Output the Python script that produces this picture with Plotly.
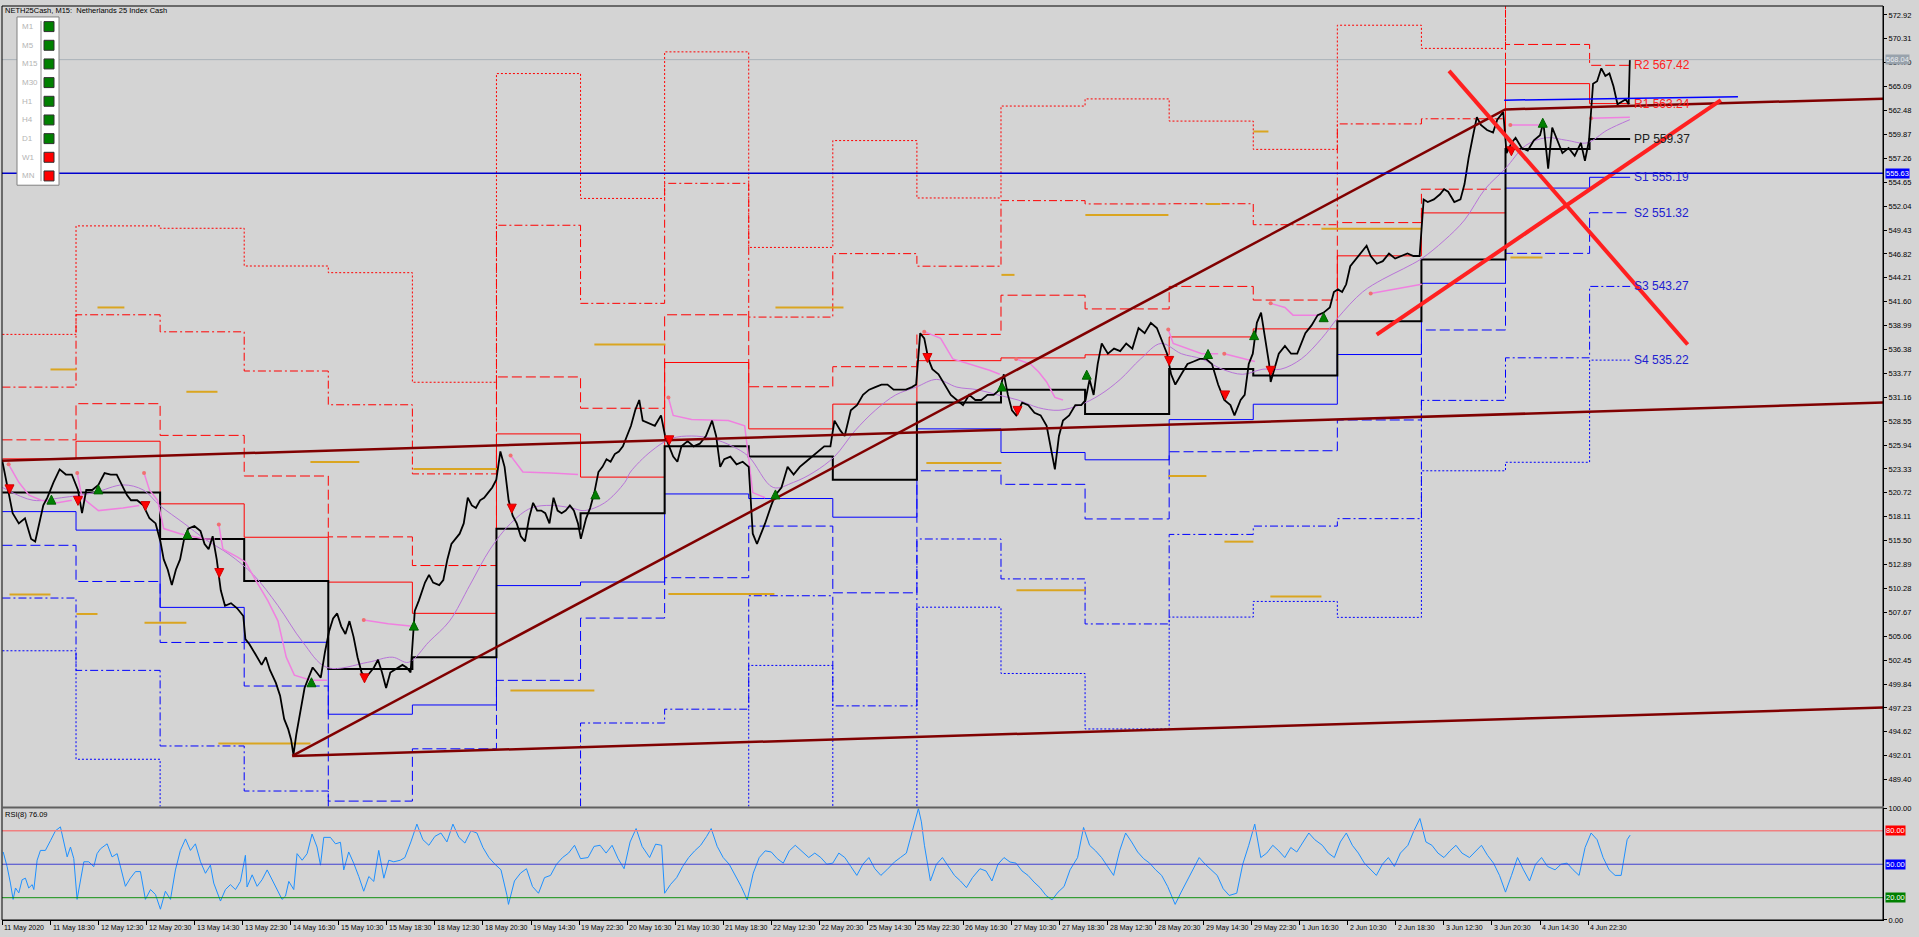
import plotly.graph_objects as go

# ---------------- DATA ----------------
DATE_BARS = [0, 32, 64, 96, 128, 160, 192, 224, 256, 288, 320, 352, 384, 416, 448, 480, 512,
             544, 576, 608, 640, 672, 704, 736, 768, 800, 832, 864, 896, 928, 960, 992, 1024, 1056]
DATE_LABELS = ["11 May 2020", "11 May 18:30", "12 May 12:30", "12 May 20:30", "13 May 14:30",
               "13 May 22:30", "14 May 16:30", "15 May 10:30", "15 May 18:30", "18 May 12:30",
               "18 May 20:30", "19 May 14:30", "19 May 22:30", "20 May 16:30", "21 May 10:30",
               "21 May 18:30", "22 May 12:30", "22 May 20:30", "25 May 14:30", "25 May 22:30",
               "26 May 16:30", "27 May 10:30", "27 May 18:30", "28 May 12:30", "28 May 20:30",
               "29 May 14:30", "29 May 22:30", "1 Jun 16:30", "2 Jun 10:30", "2 Jun 18:30",
               "3 Jun 12:30", "3 Jun 20:30", "4 Jun 14:30", "4 Jun 22:30"]
PRICE_TICKS = [572.92, 570.31, 567.70, 565.09, 562.48, 559.87, 557.26, 554.65, 552.04, 549.43,
               546.82, 544.21, 541.60, 538.99, 536.38, 533.77, 531.16, 528.55, 525.94, 523.33,
               520.72, 518.11, 515.50, 512.89, 510.28, 507.67, 505.06, 502.45, 499.84, 497.23,
               494.62, 492.01, 489.40]

PRICE_BARS = [0, 4.1, 6.8, 10.9, 15.0, 19.1, 21.8, 24.5, 27.2, 29.9, 34.0, 38.1, 42.2, 46.2, 50.3, 53.0,
              55.8, 59.8, 63.9, 68.0, 72.1, 76.1, 80.2, 82.9, 85.6, 89.7, 93.8, 97.9, 102.0, 105.2, 107.4,
              110.1, 112.8, 115.5, 118.3, 121.0, 123.7, 127.8, 131.9, 134.6, 137.3, 140.0, 142.7, 145.4,
              148.2, 152.2, 156.3, 160.4, 161.8, 164.5, 168.6, 172.6, 175.4, 178.1, 182.1, 184.9, 187.6,
              190.3, 192.2, 193.8, 195.7, 198.5, 201.2, 203.9, 206.6, 209.3, 212.0, 214.8, 217.5, 220.2,
              222.9, 225.6, 228.4, 231.1, 233.8, 236.5, 239.2, 242.0, 244.7, 247.4, 250.1, 252.8, 255.5,
              258.3, 261.0, 263.7, 266.4, 269.1, 271.8, 274.6, 277.3, 281.4, 284.1, 286.8, 290.9, 293.6,
              296.3, 299.0, 301.7, 304.5, 307.2, 309.9, 312.6, 315.3, 318.1, 320.8, 323.5, 326.2, 328.9,
              331.6, 334.4, 337.1, 339.8, 342.5, 345.2, 348.0, 350.7, 353.4, 356.1, 358.8, 361.5, 364.3,
              367.0, 369.7, 372.4, 375.1, 377.9, 380.6, 383.3, 385.2, 388.7, 391.4, 394.2, 396.9, 399.6,
              402.3, 405.0, 407.8, 410.5, 413.2, 415.9, 418.6, 421.4, 424.1,
              426.4, 430.4, 434.5, 438.6, 441.3, 444.0, 446.7, 449.5, 452.2, 456.3, 460.3, 464.4, 468.5,
              472.6, 475.3, 478.0, 480.7, 484.8, 488.9, 493.0, 497.0, 499.7, 502.5, 505.2, 507.9, 512.0,
              514.7, 518.8, 522.9, 526.9, 531.0, 535.1, 539.2, 543.2, 547.3, 551.4, 554.1, 558.2, 560.9,
              565.0, 569.1, 573.1, 577.2, 581.3, 585.4, 589.4, 593.5, 597.6, 601.7, 605.7, 608.5, 611.2,
              613.9, 616.6, 619.3, 623.4, 627.5, 631.6, 635.6, 639.7, 643.8, 647.9, 651.9, 656.0, 660.1,
              664.2, 666.9, 669.6, 672.3, 675.1, 679.1, 683.2, 687.3, 691.4, 695.4, 698.2, 700.9, 703.6,
              706.3, 710.4, 714.5, 718.5, 721.3, 724.0, 726.7, 729.4, 732.1, 736.2, 740.3, 744.4, 748.4,
              752.5, 756.6, 760.7, 764.8, 768.8, 772.9, 775.6, 778.3, 781.1, 785.1, 789.2, 793.3, 797.4,
              801.5, 805.5, 809.6, 813.7, 817.8, 820.5, 824.6, 827.3, 830.0, 832.7, 835.4, 838.2, 840.9,
              843.6, 844.6, 848.0, 850.0, 854.1, 858.2, 862.3, 865.0, 867.7, 871.8, 875.9, 879.9, 884.0,
              886.7, 889.4, 892.2, 894.9, 897.6, 901.7, 905.8, 908.5, 911.2, 915.3, 919.3, 923.4, 927.5,
              931.6, 935.7, 939.7, 943.8, 946.5, 949.2, 953.3, 957.4, 960.1, 962.8, 966.9, 971.0, 973.7,
              976.4, 979.1, 981.9, 984.6, 988.7, 992.7, 995.5, 999.5, 1001.7, 1005.0, 1007.7, 1011.8,
              1015.8, 1019.9, 1024.0, 1026.2, 1028.1, 1029.4, 1032.1, 1034.9, 1038.9, 1043.0, 1047.1,
              1051.2, 1053.9, 1056.6, 1059.3, 1062.0, 1064.8, 1067.5, 1070.2, 1072.9, 1075.6, 1078.4,
              1081.1, 1083.0, 1083.8]
PRICE_CLOSE = [524.12, 520.75, 518.50, 517.38, 517.94, 515.69, 515.41, 517.38, 519.35, 520.19, 521.87,
               523.28, 522.72, 522.72, 521.03, 518.50, 521.03, 521.03, 521.59, 522.88, 522.72, 522.72,
               521.31, 520.47, 519.91, 519.91, 519.35, 517.94, 517.38, 515.41, 513.45, 512.32, 510.64,
               512.32, 513.45, 515.69, 516.82, 517.10, 516.54, 515.13, 514.57, 515.98, 513.45, 510.08,
               508.39, 508.67, 508.11, 507.27, 504.74, 504.18, 503.06, 501.93, 502.77, 501.37, 499.96,
               498.56, 496.03, 494.91, 493.79, 492.10, 494.35, 497.16, 499.40, 500.53, 501.65, 501.09,
               500.53, 503.34, 505.58, 506.99, 507.55, 506.14, 505.30, 506.71, 505.02, 502.77, 501.09,
               500.53, 501.09, 501.65, 502.49, 501.09, 499.40, 501.09, 501.37, 501.65, 501.93, 501.65,
               501.09, 507.83, 508.95, 510.92, 511.76, 510.92, 510.64, 511.20, 513.45, 515.13, 515.69,
               516.26, 517.38, 520.19, 519.35, 519.06, 519.91, 520.19, 520.75, 521.31, 522.15, 525.24,
               523.56, 519.91, 518.22, 517.38, 515.98, 515.41, 517.94, 519.63, 518.78, 518.78, 518.50,
               517.38, 520.19, 518.78, 518.50, 518.78, 519.35, 518.78, 517.38, 515.69, 517.94, 519.06,
               520.75, 522.99, 523.56, 524.40, 524.12, 524.96, 525.24, 525.80, 526.93, 528.05, 529.74,
               530.86,
               528.61, 528.33, 528.05, 529.18, 526.93, 525.80, 524.68, 524.12, 525.80, 526.37, 525.80,
               526.09, 526.93, 528.61, 526.93, 523.56, 524.40, 524.68, 523.84, 524.12, 523.56, 516.26,
               515.13, 516.26, 517.38, 519.35, 520.47, 521.31, 523.56, 522.72, 523.56, 524.12, 524.68,
               525.24, 525.80, 525.80, 528.61, 527.49, 526.93, 529.74, 530.30, 531.42, 531.99, 532.27,
               532.55, 532.55, 531.99, 531.99, 531.99, 532.27, 532.55, 538.16, 537.60, 535.35, 534.23,
               533.67, 532.55, 531.42, 530.86, 530.30, 531.42, 530.86, 530.86, 531.42, 531.42, 531.99,
               533.67, 531.42, 529.74, 529.18, 530.58, 530.30, 529.46, 529.18, 528.05, 525.80, 523.28,
               526.93, 528.61, 529.18, 530.30, 530.30, 530.86, 533.11, 531.42, 534.79, 537.04, 535.92,
               536.48, 536.20, 537.04, 536.48, 538.73, 538.16, 539.29, 538.73, 537.04, 535.92, 533.67,
               532.55, 533.67, 534.79, 535.07, 535.35, 535.35, 534.79, 532.55, 530.86, 530.30, 529.18,
               530.86, 531.42, 534.79, 535.92, 539.29, 540.41, 537.60, 534.79, 532.83, 534.79, 535.92,
               536.76, 535.92, 535.92, 537.04, 538.16, 539.01, 540.13, 540.41, 540.97, 542.66, 542.94,
               542.66, 543.50, 545.47, 546.31, 547.15, 547.71, 546.59, 545.75, 546.03, 546.87, 546.31,
               546.59, 546.87, 546.59, 546.59, 552.77, 552.49, 552.77, 553.33, 553.89, 553.61, 552.49,
               552.77, 554.45, 557.26, 559.51, 561.76, 560.92, 560.35, 560.07, 561.48, 562.32, 557.83,
               558.95, 559.51, 558.39, 558.11, 559.23, 559.79, 561.20, 558.39, 556.14, 560.63, 559.51,
               557.83, 558.39, 557.54, 558.95, 556.98, 559.23, 565.41, 565.69, 567.09, 566.25, 566.53,
               565.13, 563.16, 563.44, 563.72, 563.16, 568.04]

MA_BARS = [0, 20.4, 39.4, 61.2, 80.2, 93.8, 104.7, 121.0, 134.6, 150.9, 167.2, 183.5, 199.8, 216.1,
           243.3, 259.6, 270.5, 284.1, 297.7, 311.3, 324.8, 338.4, 352.0, 365.6, 379.2, 387.4, 401.0,
           414.5, 418.2, 431.8, 445.4, 459.0, 472.6, 486.2, 497.0, 513.3, 526.9, 540.5, 554.1, 567.7,
           581.3, 594.9, 608.5, 622.1, 635.6, 649.2, 662.8, 676.4, 690.0, 703.6, 717.2, 730.8, 744.4,
           758.0, 771.6, 785.1, 798.7, 812.3, 825.9, 839.5, 851.4, 865.0, 878.6, 889.4, 905.8, 919.3,
           932.9, 945.2, 960.1, 973.7, 987.3, 1000.9, 1014.5, 1028.1, 1041.7, 1055.2, 1068.8, 1083.8]
MA_VALUES = [521.31, 519.91, 520.19, 520.75, 521.59, 521.03, 519.35, 517.38, 515.69, 514.01, 511.76,
             508.39, 504.46, 501.65, 502.21, 502.77, 502.21, 504.46, 506.71, 510.64, 514.57, 517.38,
             519.06, 519.35, 519.06, 518.78, 519.63, 521.87, 522.99, 525.24, 526.65, 526.93, 526.65,
             525.80, 524.68, 521.31, 521.87, 522.99, 524.68, 527.49, 529.74, 531.42, 532.27, 533.11,
             532.27, 531.99, 531.42, 530.86, 530.02, 529.74, 530.30, 531.42, 533.11, 535.35, 537.04,
             535.92, 535.35, 534.23, 533.67, 534.23, 534.23, 535.35, 537.60, 539.85, 542.66, 544.06,
             545.19, 546.31, 548.28, 550.52, 553.89, 556.14, 558.67, 559.51, 559.23, 558.95, 560.35,
             561.48]

PINK_SEGMENTS = [
    [(4.1, 523.84), (10.9, 521.87), (17.7, 520.47), (25.8, 519.91), (36.7, 519.63), (46.2, 519.91)],
    [(49.8, 522.88), (53.0, 520.19), (63.9, 518.78), (80.2, 519.06), (91.1, 519.35)],
    [(94.3, 522.88), (97.9, 521.03), (103.3, 519.91), (107.4, 516.82), (118.3, 516.26),
     (134.6, 515.69), (141.4, 515.69)],
    [(144.1, 517.27), (146.8, 514.57), (156.3, 513.73), (161.8, 513.17), (168.6, 511.20),
     (176.7, 508.95), (183.5, 506.71), (189.0, 502.77), (194.4, 500.81), (205.3, 500.25), (216.1, 500.25)],
    [(240.6, 506.82), (256.9, 506.43), (273.2, 506.14)],
    [(338.4, 524.79), (346.6, 522.99), (365.6, 522.88), (383.3, 522.72)],
    [(443.5, 531.14), (446.7, 529.18), (459.0, 528.73), (483.4, 528.61), (494.3, 528.05),
     (499.7, 520.75), (507.9, 520.19)],
    [(613.9, 538.33), (624.8, 537.60), (632.9, 535.35), (643.8, 534.79), (657.4, 534.12), (664.2, 533.67)],
    [(675.1, 535.35), (684.6, 534.79), (690.0, 533.95), (695.4, 532.83), (700.9, 531.14), (706.3, 530.86)],
    [(776.4, 538.56), (779.7, 537.04), (798.7, 535.92), (809.6, 535.92)],
    [(813.7, 535.92), (834.1, 535.07)],
    [(844.6, 541.42), (854.1, 540.97), (859.5, 540.13), (878.6, 540.13)],
    [(911.2, 542.49), (945.2, 543.50)],
    [(1004.2, 560.91), (1025.4, 560.91)],
    [(1058.0, 561.64), (1083.8, 561.76)],
]

DAY_START = [0, 49, 105, 161, 217, 273, 329, 385, 441, 497, 553, 609, 665, 721, 777, 833, 889, 945, 1001, 1057]
LAST_BAR = 1084
PP = [520.75, 520.75, 515.69, 511.09, 501.48, 502.77, 516.81, 518.50, 525.81, 524.70, 522.15, 530.58,
      531.98, 529.34, 534.24, 533.55, 539.46, 546.20, 558.29, 559.37]
R1 = [524.43, 526.36, 519.52, 515.87, 510.97, 507.56, 527.16, 522.44, 534.96, 527.71, 530.41, 535.16,
      535.46, 535.80, 537.75, 538.63, 546.61, 551.30, 565.42, 563.24]
R2 = [526.51, 530.46, 527.00, 522.56, 515.91, 512.78, 533.38, 529.96, 540.17, 532.31, 534.50, 538.03,
      542.31, 540.81, 543.27, 541.78, 550.24, 553.89, 569.70, 567.42]
R3 = [532.27, 540.17, 538.31, 534.03, 530.34, 522.79, 549.95, 541.42, 554.53, 539.92, 546.85, 545.48,
      552.64, 552.28, 552.30, 550.01, 561.02, 561.58, 581.11, 575.47]
R4 = [538.03, 549.88, 549.62, 545.50, 544.77, 532.80, 566.52, 552.88, 568.89, 547.53, 559.20, 552.93,
      562.97, 563.75, 561.33, 558.24, 571.80, 569.27, 592.52, 583.52]
S1 = [518.67, 516.65, 508.21, 504.40, 496.54, 497.55, 510.59, 510.98, 520.60, 520.10, 518.06, 527.71,
      525.13, 524.33, 528.72, 530.40, 535.83, 543.61, 554.01, 555.19]
S2 = [514.99, 511.04, 504.38, 499.62, 487.05, 492.76, 500.24, 507.04, 511.45, 517.09, 509.80, 523.13,
      521.65, 517.87, 525.21, 525.32, 528.68, 538.51, 546.88, 551.32]
S3 = [509.23, 501.33, 493.07, 488.15, 472.62, 482.75, 483.67, 495.58, 497.09, 509.48, 497.45, 515.68,
      511.32, 506.40, 516.18, 517.09, 517.90, 530.82, 535.47, 543.27]
S4 = [503.47, 491.62, 481.76, 476.68, 458.19, 472.74, 467.10, 484.12, 482.73, 501.87, 485.10, 508.23,
      500.99, 494.93, 507.15, 508.86, 507.12, 523.13, 524.06, 535.22]
PIVOT_LABELS = ["R2 567.42", "R1 563.24", "PP 559.37", "S1 555.19", "S2 551.32", "S3 543.27", "S4 535.22"]
PIVOT_LABEL_PRICES = [567.42, 563.24, 559.37, 555.19, 551.32, 543.27, 535.22]

ORANGE_START = [63.3, 32.0, 122.5, 205.1, 273.7, 394.2, 4.7, 49.3, 94.6, 143.8, 338.3, 514.8, 443.5,
                615.3, 665.3, 721.2, 675.3, 776.5, 801.8, 833.1, 813.8, 878.4, 844.4, 1004.3]
ORANGE_END = [81.2, 49.3, 143.2, 237.7, 330.3, 441.5, 32.0, 63.3, 122.5, 205.1, 394.2, 560.1, 514.1,
              665.3, 674.0, 776.5, 721.2, 801.8, 811.1, 843.1, 833.1, 945.0, 878.4, 1025.6]
ORANGE_PRICE = [540.97, 534.20, 531.76, 524.09, 523.33, 536.92, 509.62, 507.49, 506.54, 493.33, 499.12,
                540.97, 509.68, 523.98, 544.53, 551.08, 510.08, 522.57, 552.26, 560.20, 515.39, 549.57,
                509.41, 546.43]

UP_BARS = [32.6, 63.9, 123.2, 205.8, 274.0, 394.9, 514.8, 665.6, 722.1, 802.9, 833.6, 879.9, 1025.8]
UP_PRICES = [520.47, 521.59, 516.69, 500.52, 506.71, 521.04, 521.04, 532.83, 534.12, 536.38, 538.44,
             540.40, 561.64]
DOWN_BARS = [4.7, 50.3, 95.2, 144.4, 241.1, 339.2, 444.1, 616.0, 676.0, 777.0, 814.3, 844.6, 1004.9]
DOWN_PRICES = [520.61, 519.35, 518.78, 511.47, 499.97, 518.50, 525.97, 534.96, 529.18, 534.64, 530.87,
               533.56, 557.54]

# trend lines: (bar0, price0, bar1, price1)
MAROON_LINES = [(193.0, 491.98, 1252.7, 497.27), (-1.3, 524.23, 1252.7, 530.58),
                (193.0, 491.98, 1000.9, 562.60), (1000.9, 562.60, 1252.7, 563.78)]
RED_X_LINES = [(963.4, 566.82, 1122.3, 536.92), (915.2, 538.00, 1144.4, 563.61)]
BLUE_TREND = (1000.1, 563.61, 1155.8, 564.00)
HLINE_BLUE = 555.63
HLINE_BID = 568.04

RSI_BARS = [0.5, 3.1, 5.3, 7.1, 8.7, 10.9, 13.1, 15.3, 17.5, 19.8, 20.9, 23.1, 25.3, 28.6, 32.0, 35.3,
            38.6, 40.8, 43.1, 45.3, 47.5, 49.7, 52.0, 54.2, 57.5, 60.8, 63.0, 65.3, 69.7, 73.0, 76.4,
            79.7, 81.9, 85.2, 88.6, 91.9, 95.2, 98.6, 101.9, 105.2, 108.5, 111.9, 115.2, 118.5, 121.9,
            125.2, 128.5, 131.9, 135.2, 138.5, 140.7, 145.2, 148.5, 151.8, 155.2, 158.5, 161.8, 162.9,
            166.3, 169.6, 172.9, 176.3, 179.6, 182.9, 186.2, 188.5, 190.7, 194.0, 196.2, 199.6, 202.9,
            206.2, 209.5, 211.8, 214.0, 218.4, 221.8, 225.1, 227.3, 230.6, 234.0, 237.3, 240.6, 244.0,
            247.3, 250.6, 254.0, 257.3, 260.6, 265.0,
            268, 272, 276, 280, 284, 288, 292, 296, 300, 304, 308, 312, 316, 320, 324, 328, 332, 336,
            337, 341, 345, 349, 353, 357, 361, 365, 369, 373, 377, 381, 385, 390, 394, 398, 402, 406,
            410, 414, 418, 422, 426, 431, 435, 439, 441, 445, 449, 453, 457, 461, 465, 469, 472, 476,
            480, 484, 488, 492, 496, 500, 504, 508, 512, 516, 520, 524, 528, 532, 537, 541, 545, 549,
            553, 557, 561, 565, 569, 573, 577, 581, 585, 589, 594, 598, 602, 606, 610, 612, 614, 618,
            622, 626, 630, 634, 638, 642, 646, 651, 655, 659, 663, 667, 671, 675, 679, 683, 687, 691,
            695, 699, 703, 707, 711, 716, 720, 724, 728, 732, 736, 740, 744, 748, 752, 756, 760, 764,
            768, 772, 776, 781, 785, 789, 793, 797, 801, 805, 809, 813, 817, 822, 826, 830, 834, 838,
            842, 846, 850, 854, 858, 862, 866, 870, 874, 879, 883, 887, 891, 895, 899, 903, 907, 911,
            915, 919, 923, 927, 931, 936, 940, 944, 948, 952, 956, 960, 964, 968, 972, 977, 981, 985,
            989, 993, 997, 1001, 1005, 1009, 1013, 1017, 1021, 1025, 1029, 1034, 1038, 1042, 1046,
            1050, 1054, 1058, 1062, 1066, 1070, 1074, 1078, 1082, 1084]
RSI_VALUES = [61.0, 47.8, 33.1, 18.5, 28.7, 24.3, 36.1, 37.5, 28.7, 31.7, 27.3, 53.6, 62.4, 62.4, 71.2,
              80.0, 83.5, 71.2, 56.6, 65.4, 55.1, 18.5, 36.1, 52.2, 52.2, 47.8, 59.5, 63.9, 68.3, 56.6,
              59.5, 41.9, 30.2, 37.5, 43.4, 43.4, 18.5, 27.3, 22.9, 9.7, 25.8, 18.5, 44.9, 62.4, 72.7,
              62.4, 68.3, 52.2, 41.9, 49.2, 33.1, 17.0, 27.3, 31.7, 27.3, 34.6, 58.0, 29.6, 40.5, 30.2,
              36.1, 44.9, 36.1, 27.3, 18.5, 21.4, 34.6, 27.3, 59.5, 53.6, 59.5, 77.1, 65.4, 49.2, 74.1,
              74.1, 68.3, 69.7, 44.9, 61.0, 50.7, 39.0, 25.8, 39.0, 34.6, 62.4, 37.5, 53.6, 52.2, 53.6,
              56, 70, 86, 72, 67, 75, 78, 70, 86, 74, 69, 80, 78, 65, 56, 50, 45, 22,
              14, 35, 42, 46, 30, 24, 38, 40, 50, 56, 60, 67, 55, 56, 66, 67, 60, 67,
              55, 46, 70, 82, 66, 56, 68, 67, 24, 32, 38, 48, 56, 62, 67, 75, 82, 66,
              56, 50, 40, 30, 18, 42, 56, 62, 61, 55, 51, 62, 67, 62, 56, 60, 56, 50,
              51, 60, 56, 48, 40, 50, 56, 46, 40, 45, 52, 56, 60, 80, 100, 88, 67, 35,
              50, 56, 48, 40, 35, 29, 38, 46, 44, 35, 50, 56, 52, 51, 44, 40, 34, 29,
              22, 18, 25, 30, 45, 56, 83, 67, 62, 56, 48, 40, 62, 78, 70, 61, 55, 51,
              45, 40, 30, 14, 25, 35, 45, 56, 50, 45, 40, 28, 22, 24, 50, 67, 86, 56,
              60, 67, 62, 56, 65, 61, 70, 78, 72, 67, 60, 56, 70, 78, 67, 60, 51, 45,
              40, 50, 56, 48, 60, 67, 80, 91, 70, 67, 60, 56, 62, 67, 60, 56, 62, 67,
              58, 51, 40, 25, 40, 56, 45, 35, 50, 56, 48, 45, 50, 51, 45,
              40, 65, 78, 72, 56, 45, 40, 40, 72, 76.09]
RSI_LEVELS = [80, 50, 20]

TF_LABELS = ["M1", "M5", "M15", "M30", "H1", "H4", "D1", "W1", "MN"]
TF_STATE = ["up", "up", "up", "up", "up", "up", "up", "down", "down"]

# ---------------- LAYOUT HELPERS ----------------
W, H = 1919, 937
ML, MR, MT, MB = 2, 36, 2, 17
PW, PH = W - ML - MR, H - MT - MB


def pxx(x):
    return (x - ML) / PW


def pxy(y):
    return (H - MB - y) / PH


BG = "#d4d4d4"
SMALL = "Liberation Sans, Arial, sans-serif"
RED = "#ff0000"
BLUE = "#0000ff"

fig = go.Figure()

# pivot step lines
step_x = DAY_START + [LAST_BAR]
pivot_specs = [
    (R4, RED, "2px,2px", 1), (R3, RED, "8px,3px,2px,3px", 1), (R2, RED, "10px,4px", 1), (R1, RED, "solid", 1),
    (S4, BLUE, "2px,2px", 1), (S3, BLUE, "8px,3px,2px,3px", 1), (S2, BLUE, "10px,4px", 1), (S1, BLUE, "solid", 1),
    (PP, "#000000", "solid", 2),
]
for vals, col, dash, wd in pivot_specs:
    fig.add_trace(go.Scatter(x=step_x, y=vals + [vals[-1]], mode="lines",
                             line=dict(color=col, dash=dash, width=wd, shape="hv"),
                             hoverinfo="skip", showlegend=False))

# orange mid segments
ox, oy = [], []
for a, b, p in zip(ORANGE_START, ORANGE_END, ORANGE_PRICE):
    ox += [a, b, None]
    oy += [p, p, None]
fig.add_trace(go.Scatter(x=ox, y=oy, mode="lines", line=dict(color="#daa520", width=2),
                         hoverinfo="skip", showlegend=False))

# MA
fig.add_trace(go.Scatter(x=MA_BARS, y=MA_VALUES, mode="lines",
                         line=dict(color="#b874d8", width=1, shape="spline"),
                         hoverinfo="skip", showlegend=False))
# pink trailing line
kx, ky = [], []
for seg in PINK_SEGMENTS:
    kx += [s[0] for s in seg] + [None]
    ky += [s[1] for s in seg] + [None]
fig.add_trace(go.Scatter(x=kx, y=ky, mode="lines", line=dict(color="#f080e0", width=1.5),
                         hoverinfo="skip", showlegend=False))
fig.add_trace(go.Scatter(x=[seg[0][0] for seg in PINK_SEGMENTS], y=[seg[0][1] for seg in PINK_SEGMENTS],
                         mode="markers", marker=dict(color="#f07070", size=4),
                         hoverinfo="skip", showlegend=False))

# price
fig.add_trace(go.Scatter(x=PRICE_BARS, y=PRICE_CLOSE, mode="lines",
                         line=dict(color="#000000", width=1.8), hoverinfo="skip", showlegend=False))

# maroon trend lines
mx, my = [], []
for a, p0, b, p1 in MAROON_LINES:
    mx += [a, b, None]
    my += [p0, p1, None]
fig.add_trace(go.Scatter(x=mx, y=my, mode="lines", line=dict(color="#800000", width=2.5),
                         hoverinfo="skip", showlegend=False))
# blue short trend
fig.add_trace(go.Scatter(x=[BLUE_TREND[0], BLUE_TREND[2]], y=[BLUE_TREND[1], BLUE_TREND[3]], mode="lines",
                         line=dict(color="#0000ff", width=1.5), hoverinfo="skip", showlegend=False))

# arrows
fig.add_trace(go.Scatter(x=UP_BARS, y=UP_PRICES, mode="markers",
                         marker=dict(symbol="arrow-up", size=9, color="#008000",
                                     line=dict(color="#006000", width=1)),
                         hoverinfo="skip", showlegend=False))
fig.add_trace(go.Scatter(x=DOWN_BARS, y=DOWN_PRICES, mode="markers",
                         marker=dict(symbol="arrow-down", size=9, color="#ff0000",
                                     line=dict(color="#d00000", width=1)),
                         hoverinfo="skip", showlegend=False))

# red X lines
rx, ry = [], []
for a, p0, b, p1 in RED_X_LINES:
    rx += [a, b, None]
    ry += [p0, p1, None]
fig.add_trace(go.Scatter(x=rx, y=ry, mode="lines", line=dict(color="#ff2020", width=4),
                         hoverinfo="skip", showlegend=False))

# RSI
fig.add_trace(go.Scatter(x=RSI_BARS, y=RSI_VALUES, mode="lines", yaxis="y2",
                         line=dict(color="#1e90ff", width=1), hoverinfo="skip", showlegend=False))

shapes = []
annotations = []
shapes.append(dict(type="line", xref="paper", x0=0, x1=1, yref="y", y0=HLINE_BID, y1=HLINE_BID,
                   line=dict(color="#a9b1b9", width=1)))
shapes.append(dict(type="line", xref="paper", x0=0, x1=1, yref="y", y0=HLINE_BLUE, y1=HLINE_BLUE,
                   line=dict(color="#0000cd", width=1.5)))
for lv, col in zip(RSI_LEVELS, ["#f08080", "#4040d0", "#109010"]):
    shapes.append(dict(type="line", xref="paper", x0=0, x1=1, yref="y2", y0=lv, y1=lv,
                       line=dict(color=col, width=1.5 if lv == 80 else 1)))
shapes.append(dict(type="rect", xref="paper", yref="paper", x0=0, x1=1, y0=0, y1=1,
                   line=dict(color="#000000", width=1)))
shapes.append(dict(type="line", xref="paper", yref="paper", x0=0, x1=1, y0=pxy(807), y1=pxy(807),
                   line=dict(color="#606060", width=2)))

# timeframe box
shapes.append(dict(type="rect", xref="paper", yref="paper", x0=pxx(17), x1=pxx(59), y0=pxy(182),
                   y1=pxy(13), fillcolor="#ffffff", line=dict(color="#808080", width=1)))
shapes.append(dict(type="line", xref="paper", yref="paper", x0=pxx(41), x1=pxx(41), y0=pxy(178),
                   y1=pxy(17), line=dict(color="#909090", width=1)))
for i, (lab, st) in enumerate(zip(TF_LABELS, TF_STATE)):
    cy = 22.7 + i * 18.75
    shapes.append(dict(type="rect", xref="paper", yref="paper", x0=pxx(44), x1=pxx(54),
                       y0=pxy(cy + 5), y1=pxy(cy - 5),
                       fillcolor="#008000" if st == "up" else "#ff0000", line=dict(color="#303030", width=1)))
    annotations.append(dict(xref="paper", yref="paper", x=pxx(20), y=pxy(cy), text=lab, showarrow=False,
                            xanchor="left", yanchor="middle",
                            font=dict(family=SMALL, size=8, color="#b4b4b4")))

annotations.append(dict(xref="paper", yref="paper", x=pxx(3), y=pxy(7),
                        text="NETH25Cash, M15:  Netherlands 25 Index Cash",
                        showarrow=False, xanchor="left", yanchor="middle",
                        font=dict(family=SMALL, size=7.5, color="#000000")))
annotations.append(dict(xref="paper", yref="paper", x=pxx(3), y=pxy(814), text="RSI(8) 76.09",
                        showarrow=False, xanchor="left", yanchor="middle",
                        font=dict(family=SMALL, size=7.5, color="#000000")))

piv_cols = ["#ff2020", "#ff2020", "#202020", "#2020d0", "#2020d0", "#2020d0", "#2020d0"]
for lab, p, c in zip(PIVOT_LABELS, PIVOT_LABEL_PRICES, piv_cols):
    annotations.append(dict(xref="x", yref="y", x=LAST_BAR + 1, y=p, text=lab, showarrow=False,
                            xanchor="left", yanchor="middle",
                            font=dict(family="Liberation Sans, Arial, sans-serif", size=12, color=c)))

for b, lab in zip(DATE_BARS, DATE_LABELS):
    annotations.append(dict(xref="x", yref="paper", x=b, y=0, text=lab, showarrow=False,
                            xanchor="left", yanchor="top", xshift=0, yshift=-2,
                            font=dict(family=SMALL, size=7, color="#000000")))

for val, yr, bg, fc in [(HLINE_BID, "y", "#98a2ac", "#e8ecf0"), (HLINE_BLUE, "y", "#0000ff", "#ffffff"),
                        (80, "y2", "#ff0000", "#ffffff"), (50, "y2", "#0000ff", "#ffffff"),
                        (20, "y2", "#008000", "#ffffff")]:
    annotations.append(dict(xref="paper", yref=yr, x=1, y=val, text="%.2f" % val, showarrow=False,
                            xanchor="left", yanchor="middle", xshift=2, bgcolor=bg, borderpad=0,
                            font=dict(family=SMALL, size=7.5, color=fc)))

fig.update_layout(
    width=W, height=H,
    margin=dict(l=ML, r=MR, t=MT, b=MB),
    paper_bgcolor=BG, plot_bgcolor=BG,
    showlegend=False,
    xaxis=dict(domain=[0, 1], range=[-0.3, 1252.4], anchor="y2", showgrid=False, zeroline=False,
               tickmode="array", tickvals=DATE_BARS, ticks="outside", ticklen=4, tickcolor="#000000",
               showticklabels=False, showline=True, linecolor="#000000", linewidth=1),
    yaxis=dict(domain=[pxy(806), 1], range=[486.46, 573.90], side="right", anchor="x",
               showgrid=False, zeroline=False, tickmode="array", tickvals=PRICE_TICKS,
               ticktext=["%.2f" % v for v in PRICE_TICKS], ticks="outside", ticklen=3,
               tickcolor="#000000", showline=True, linecolor="#000000",
               tickfont=dict(family=SMALL, size=7.5, color="#000000")),
    yaxis2=dict(domain=[0, pxy(808)], range=[0, 100], side="right", anchor="x",
                showgrid=False, zeroline=False, tickmode="array", tickvals=[0, 100],
                ticktext=["0.00", "100.00"], ticks="outside", ticklen=3, tickcolor="#000000",
                showline=True, linecolor="#000000",
                tickfont=dict(family=SMALL, size=7.5, color="#000000")),
    shapes=shapes, annotations=annotations,
)

fig.write_html("out.html", config={"displayModeBar": False},
               post_script="document.body.style.margin='0px';document.body.style.padding='0px';"
                           "document.documentElement.style.overflow='hidden';")
